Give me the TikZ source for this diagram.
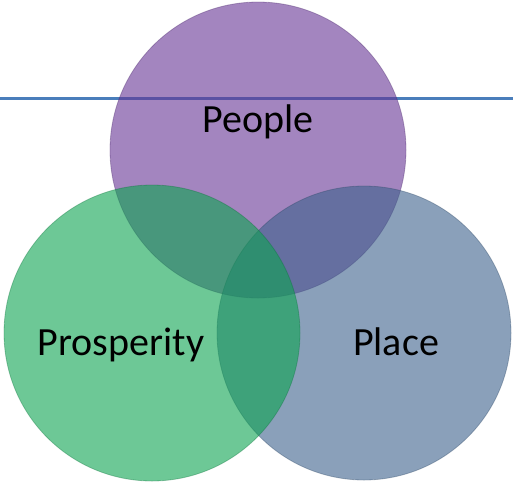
\documentclass[tikz,border=0pt]{standalone}
\usepackage{fontspec}
\setmainfont{Carlito}
\definecolor{cPeople}{RGB}{102,52,148}
\definecolor{cProsp}{RGB}{12,163,80}
\definecolor{cPlace}{RGB}{60,97,140}
\definecolor{cLine}{RGB}{74,126,187}
\begin{document}
\begin{tikzpicture}[x=1pt,y=-1pt,
  venn/.style={circle, inner sep=0pt, fill opacity=0.6, draw opacity=0.35, line width=0.8pt},
  lbl/.style={anchor=base, font=\fontsize{40}{44}\selectfont, text=black}]
\useasboundingbox (0,0) rectangle (513,482);
\coordinate (lineL) at (0,98.5);
\coordinate (lineR) at (513,98.5);
\draw[cLine, line width=2.8pt] (lineL) -- (lineR);
\node[venn, fill=cPeople, draw=cPeople!70!black, minimum size=296pt] (people) at (258,150) {};
\node[venn, fill=cPlace, draw=cPlace!70!black, minimum size=294pt] (place) at (364,333) {};
\node[venn, fill=cProsp, draw=cProsp!70!black, minimum size=296pt] (prosp) at (152,333) {};
\node[lbl] (tPeople) at (258,132) {People};
\node[lbl] (tProsp) at (121,355) {Prosperity};
\node[lbl] (tPlace) at (396,355) {Place};
\end{tikzpicture}
\end{document}
